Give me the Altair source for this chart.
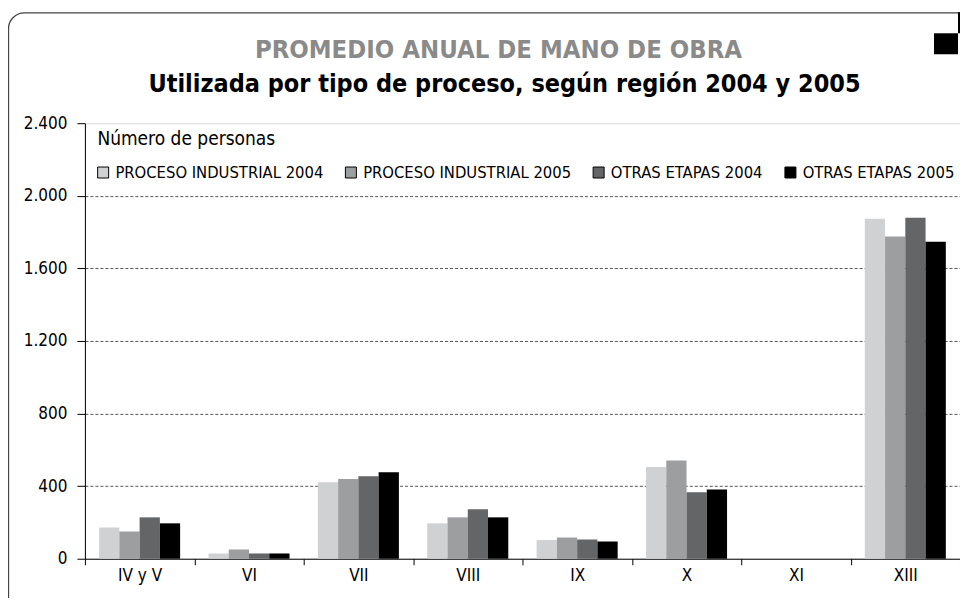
import altair as alt
import pandas as pd

regions = ["IV y V", "VI", "VII", "VIII", "IX", "X", "XI", "XIII"]
series = ["PROCESO INDUSTRIAL 2004", "PROCESO INDUSTRIAL 2005", "OTRAS ETAPAS 2004", "OTRAS ETAPAS 2005"]
colors = ["#d0d1d3", "#9d9ea0", "#646567", "#000000"]

proc_ind_2004 = [172, 29, 422, 195, 103, 505, 0, 1873]
proc_ind_2005 = [150, 51, 439, 228, 117, 541, 0, 1775]
otras_2004 = [228, 29, 455, 273, 106, 367, 0, 1879]
otras_2005 = [195, 29, 477, 228, 95, 382, 0, 1747]

y_ticks = [0, 400, 800, 1200, 1600, 2000, 2400]

title_text = "PROMEDIO ANUAL DE MANO DE OBRA"
subtitle_text = "Utilizada por tipo de proceso, según región 2004 y 2005"

FONT = "DejaVu Sans Condensed, DejaVu Sans, sans-serif"

rows = []
for s, vals in zip(series, [proc_ind_2004, proc_ind_2005, otras_2004, otras_2005]):
    for r, v in zip(regions, vals):
        rows.append({"region": r, "serie": s, "valor": v})
df = pd.DataFrame(rows)

bars = alt.Chart(df).mark_bar().encode(
    x=alt.X("region:N", sort=regions,
            scale=alt.Scale(paddingInner=0, paddingOuter=0),
            axis=alt.Axis(title=None, labelAngle=0, tickBand="extent", tickSize=6,
                          tickColor="#000", domainColor="#000", labelFontSize=17,
                          labelFont=FONT, labelColor="#000", labelPadding=3, grid=False)),
    xOffset=alt.XOffset("serie:N", sort=series,
                        scale=alt.Scale(paddingInner=0, paddingOuter=0.7)),
    y=alt.Y("valor:Q", scale=alt.Scale(domain=[0, 2400], nice=False),
            axis=alt.Axis(values=y_ticks, title="Número de personas", titleAngle=0,
                          titleAlign="left", titleBaseline="alphabetic", titleX=12, titleY=21,
                          titleFont=FONT, titleFontSize=19, titleFontWeight="normal",
                          titleColor="#000",
                          labelExpr="replace(format(datum.value, ','), ',', '.')",
                          labelFont=FONT, labelFontSize=17, labelColor="#000", labelPadding=10,
                          tickSize=8, tickColor="#000", domainColor="#000",
                          grid=True, gridColor="#555", gridDash=[3, 2], gridWidth=1,
                          gridOpacity={"condition": {"test": "datum.value >= 2400 || datum.value == 0", "value": 0}, "value": 1})),
    color=alt.Color("serie:N", sort=series,
                    scale=alt.Scale(domain=series, range=colors),
                    legend=alt.Legend(title=None, orient="none", legendX=10, legendY=41,
                                      direction="horizontal", columns=4, symbolType="square",
                                      symbolSize=121, symbolStrokeColor="#000", symbolStrokeWidth=1,
                                      labelFont=FONT, labelFontSize=16.5, labelColor="#000",
                                      labelOffset=4, columnPadding=19, labelLimit=400)),
)

titles = pd.DataFrame({"t": [title_text]})
subtitles = pd.DataFrame({"t": [subtitle_text]})

title_mark = alt.Chart(titles).mark_text(
    font=FONT, fontSize=25.5, fontWeight="bold", color="#8a8a8a",
    align="center", baseline="alphabetic"
).encode(text="t:N", x=alt.value(414), y=alt.value(-65))

subtitle_mark = alt.Chart(subtitles).mark_text(
    font=FONT, fontSize=25, fontWeight="bold", color="#000",
    align="center", baseline="alphabetic"
).encode(text="t:N", x=alt.value(420), y=alt.value(-31))

frame = alt.Chart(pd.DataFrame({"k": [0]})).mark_rect(
    fill=None, stroke="#444", strokeWidth=1.3, cornerRadius=16
).encode(x=alt.value(-76.5), x2=alt.value(900), y=alt.value(-110.5), y2=alt.value(490))

deco1 = alt.Chart(pd.DataFrame({"k": [0]})).mark_rect(color="#000").encode(
    x=alt.value(874), x2=alt.value(885), y=alt.value(-111), y2=alt.value(-90))
deco2 = alt.Chart(pd.DataFrame({"k": [0]})).mark_rect(color="#000").encode(
    x=alt.value(850), x2=alt.value(874), y=alt.value(-90), y2=alt.value(-69))

chart = alt.layer(frame, bars, title_mark, subtitle_mark, deco1, deco2).properties(
    width=876, height=436,
    autosize=alt.AutoSizeParams(type="none"),
    padding={"left": 77, "top": 115, "right": 0, "bottom": 39},
).configure_view(stroke=None).configure(background="white")

chart.save("out.html", embed_options={"renderer": "svg", "actions": False})
